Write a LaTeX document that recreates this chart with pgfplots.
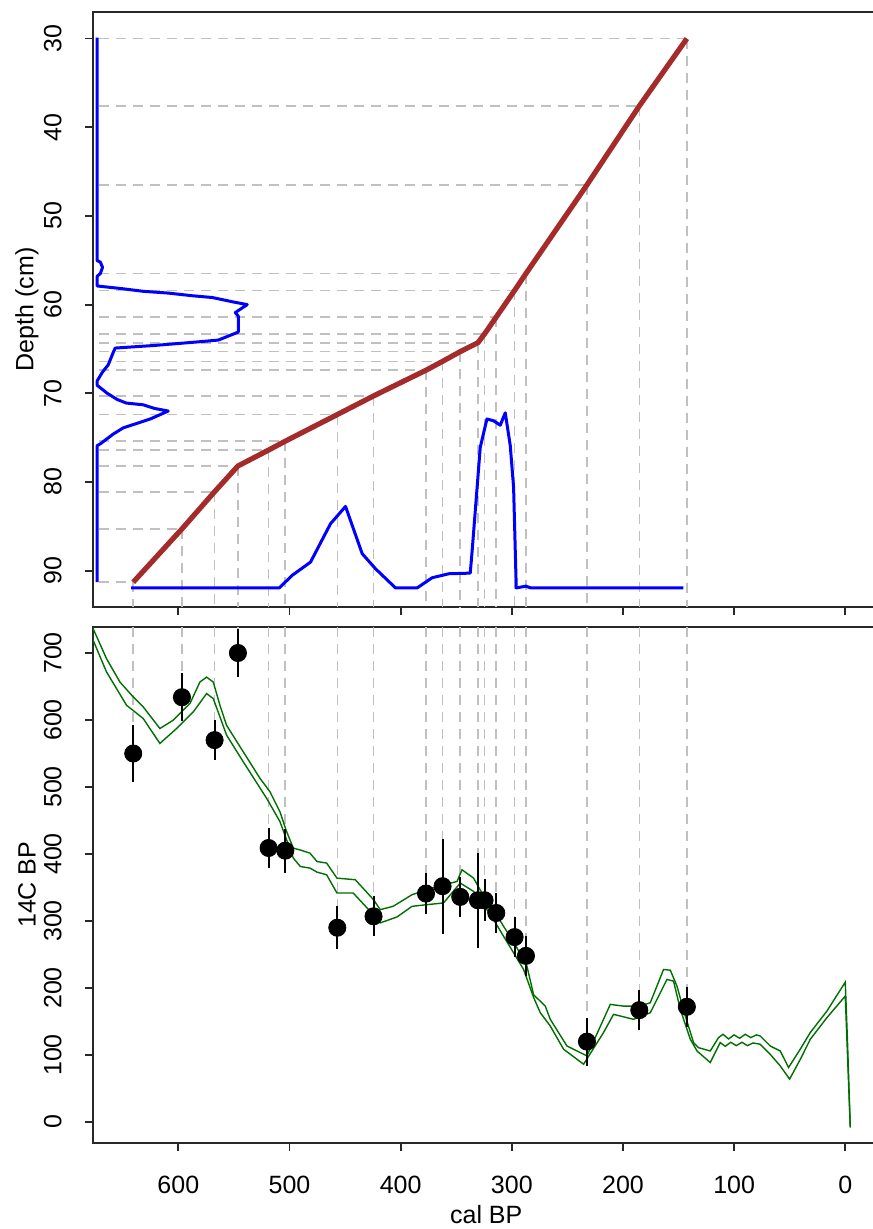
\documentclass[border=0pt]{standalone}
\usepackage{pgfplots}
\pgfplotsset{compat=1.18}
\usepackage{pgfplotstable}
\usepackage{fontspec}
\setmainfont{Liberation Sans}
\definecolor{agered}{RGB}{165,42,42}
\definecolor{calgreen}{RGB}{0,110,0}
\definecolor{guide}{RGB}{192,192,192}
\definecolor{frame}{RGB}{40,40,40}

\pgfplotstableread{
cal depth c14 err
640.6 91.3 550 42
596.8 85.3 634 36
567.4 81.1 570 30
546.4 78.2 700 36
518.8 76.4 409 30
503.8 75.4 405 33
457.0 72.4 290 32
424.4 70.3 307 30
377.2 67.4 341 31
362.3 66.4 352 71
346.4 65.3 336 30
330.5 64.3 331 71
324.5 63.3 331 31
314.0 61.4 312 30
297.5 58.4 276 30
287.3 56.5 248 30
232.4 46.5 120 36
185.3 37.6 167 30
142.5 30.0 172 30
}\dates

\pgfplotstableread{
cal depth
673 29.9
673 55.05
670.2 55.2
668.2 55.8
670.2 56.5
673 56.8
673 57.9
650.7 58.2
631.6 58.5
609.1 58.7
587.5 59.0
569.5 59.2
550.6 59.7
538 60.0
548.8 60.9
546.1 61.3
546.1 63.1
564.1 64.0
582.1 64.2
620.8 64.6
656.8 64.9
658.6 65.4
663.1 66.8
668.2 67.6
673 68.6
673 69.1
664 70.0
655 70.7
646.9 71.1
631.6 71.3
621.7 71.7
609.1 72.0
625.3 72.9
649.6 73.9
658.6 74.6
670.2 75.7
673 75.9
673 91.3
}\depthprob

\pgfplotstableread{
cal depth
642.4 91.95
509.2 91.95
497.7 90.54
481.1 89.04
463.1 84.71
449.6 82.76
434.6 88.09
422.6 89.79
404.6 91.95
385.2 91.95
371.7 90.8
356.6 90.35
337.4 90.28
335.9 88.1
328.4 76.1
322.4 72.9
316.4 73.1
310.4 73.6
305.9 72.2
301.4 75.9
298.4 80.6
296.0 91.95
287.4 91.75
282.9 91.95
145.7 91.95
}\ageprob

\pgfplotstableread{
cal c14
680 745
676.6 736
664.6 691.5
652.6 656.7
640.6 634.4
631.6 619.5
616.6 587.3
604.6 599.7
589.6 624.5
580.6 656.7
574.6 664
568.6 656.7
562.6 622
556.6 592
541.6 552.5
526.6 513
517.6 493
508.6 463
502.6 433.5
496.6 408.8
490.3 406
481.6 401.3
475.3 388.8
466.6 386.5
457.3 364
440.8 361.6
424.4 331.8
418.4 317
406.7 322
389.8 339.3
376.3 346.7
361.4 354
349.3 359
344.8 376.5
334.4 364
326.9 341.8
316.4 317
307.4 292
298.4 269
286.4 232.6
280.4 190
269.9 173
265.4 153.3
250.4 113.5
232.4 98.7
211.4 175.6
199.5 173
184.4 173
175.4 178.1
163.5 227.7
157.4 226.6
151.4 202.8
143.9 158.2
136.5 118.6
132 111
121.5 106
114 126
110 131
105 124
100 130
95 125
90 131
85 126
80 130
76.5 128.4
67.5 113.5
58.5 106
51 81.4
40 110
31.5 133.5
16.5 165.6
0 208.8
-2 120
-4.5 -8
}\calup

\pgfplotstableread{
cal c14
680 728
676.6 718.8
664.6 671.6
646.6 622
631.6 602.2
616.6 565
601.6 587.3
586.6 612
574.6 639.4
568.6 632
556.6 577.4
541.6 537.6
520.6 483.2
508.6 448.4
496.6 394
490.3 381.4
481.6 379
475.3 373
466.6 369
457.3 341.8
442.7 341.8
424.6 309.5
418.4 297.2
403.3 306
389.8 321.9
376.3 324.4
361.4 327
346.4 356.7
334.4 344.2
325.4 324.4
316.4 302
307.4 277.2
298.4 252.5
289.4 227.7
280.4 186
274.4 163.2
265.4 143.3
253.4 108.6
235.4 86.3
217.5 133.5
208.5 160.7
190.5 153.3
175.4 163.2
160.4 212.8
154.5 210.3
148.4 168.2
139.4 123.5
133.4 106.1
121.5 88.8
112.5 118.6
108 113
103 119
98 114
93 119
88 114
83 118
76.5 116.1
67 100
58.5 83.8
50.1 64
40 95
31.5 123.5
16.5 155.8
0 188
-2 100
-4.5 -8
}\callow

\begin{document}
\begin{tikzpicture}
\path[use as bounding box] (-46.5pt,-311pt) rectangle (389.5pt,303.5pt);
\pgfplotsset{
  every axis/.append style={
    scale only axis, width=393.25pt,
    x dir=reverse, xmin=-30.8, xmax=676.8,
    axis line style={frame, line width=0.9pt},
    tick style={frame, line width=0.9pt},
    tick align=outside, major tick length=4pt,
    xtick={0,100,...,600}, xtick pos=left, ytick pos=left,
    tick label style={font=\fontsize{12.5}{15}\selectfont},
    label style={font=\fontsize{12.5}{15}\selectfont},
    /pgf/number format/assume math mode=true,
    yticklabel style={rotate=90, anchor=south, inner sep=0pt},
    xticklabel style={anchor=north, inner sep=0pt},
    yticklabel shift=11.5pt, xticklabel shift=12.5pt,
    ylabel style={at={(axis description cs:-0.084,0.5)}, anchor=center, inner sep=0pt},
  },
  guideline/.style={guide, line width=0.8pt, dash pattern=on 5pt off 3.5pt, unbounded coords=jump},
}
\begin{axis}[at={(0,0)}, anchor=south west, height=297.6pt,
  y dir=reverse, ymin=26.98, ymax=94.10, ytick={30,40,...,90},
  xticklabels={}, ylabel={Depth (cm)}]
\addplot[guideline] coordinates {
(671,91.3)(640.6,91.3) (nan,nan)
(671,85.3)(596.8,85.3) (nan,nan)
(671,81.1)(567.4,81.1) (nan,nan)
(671,78.2)(546.4,78.2) (nan,nan)
(671,76.4)(518.8,76.4) (nan,nan)
(671,75.4)(503.8,75.4) (nan,nan)
(671,72.4)(457.0,72.4) (nan,nan)
(671,70.3)(424.4,70.3) (nan,nan)
(671,67.4)(377.2,67.4) (nan,nan)
(671,66.4)(362.3,66.4) (nan,nan)
(671,65.3)(346.4,65.3) (nan,nan)
(671,64.3)(330.5,64.3) (nan,nan)
(671,63.3)(324.5,63.3) (nan,nan)
(671,61.4)(314.0,61.4) (nan,nan)
(671,58.4)(297.5,58.4) (nan,nan)
(671,56.5)(287.3,56.5) (nan,nan)
(671,46.5)(232.4,46.5) (nan,nan)
(671,37.6)(185.3,37.6) (nan,nan)
(671,30.0)(142.5,30.0)
};
\addplot[guideline] coordinates {
(640.6,91.3)(640.6,94.1) (nan,nan)
(596.8,85.3)(596.8,94.1) (nan,nan)
(567.4,81.1)(567.4,94.1) (nan,nan)
(546.4,78.2)(546.4,94.1) (nan,nan)
(518.8,76.4)(518.8,94.1) (nan,nan)
(503.8,75.4)(503.8,94.1) (nan,nan)
(457.0,72.4)(457.0,94.1) (nan,nan)
(424.4,70.3)(424.4,94.1) (nan,nan)
(377.2,67.4)(377.2,94.1) (nan,nan)
(362.3,66.4)(362.3,94.1) (nan,nan)
(346.4,65.3)(346.4,94.1) (nan,nan)
(330.5,64.3)(330.5,94.1) (nan,nan)
(324.5,63.3)(324.5,94.1) (nan,nan)
(314.0,61.4)(314.0,94.1) (nan,nan)
(297.5,58.4)(297.5,94.1) (nan,nan)
(287.3,56.5)(287.3,94.1) (nan,nan)
(232.4,46.5)(232.4,94.1) (nan,nan)
(185.3,37.6)(185.3,94.1) (nan,nan)
(142.5,30.0)(142.5,94.1)
};
\addplot[blue, line width=1.5pt, line join=round] table[x=cal,y=depth] {\depthprob};
\addplot[blue, line width=1.5pt, line join=round] table[x=cal,y=depth] {\ageprob};
\addplot[agered, line width=2.6pt, line join=round] table[x=cal,y=depth] {\dates};
\end{axis}

\begin{axis}[at={(0,-10pt)}, anchor=north west, height=257.8pt,
  ymin=-30.7, ymax=738.8, ytick={0,100,...,700},
  xlabel={cal BP}, ylabel={14C BP},
  xlabel style={at={(axis description cs:0.5,0)}, anchor=north, yshift=-31pt, inner sep=0pt}]
\addplot[guideline] coordinates {
(640.6,738.8)(640.6,550) (nan,nan)
(596.8,738.8)(596.8,634) (nan,nan)
(567.4,738.8)(567.4,570) (nan,nan)
(546.4,738.8)(546.4,700) (nan,nan)
(518.8,738.8)(518.8,409) (nan,nan)
(503.8,738.8)(503.8,405) (nan,nan)
(457.0,738.8)(457.0,290) (nan,nan)
(424.4,738.8)(424.4,307) (nan,nan)
(377.2,738.8)(377.2,341) (nan,nan)
(362.3,738.8)(362.3,352) (nan,nan)
(346.4,738.8)(346.4,336) (nan,nan)
(330.5,738.8)(330.5,331) (nan,nan)
(324.5,738.8)(324.5,331) (nan,nan)
(314.0,738.8)(314.0,312) (nan,nan)
(297.5,738.8)(297.5,276) (nan,nan)
(287.3,738.8)(287.3,248) (nan,nan)
(232.4,738.8)(232.4,120) (nan,nan)
(185.3,738.8)(185.3,167) (nan,nan)
(142.5,738.8)(142.5,172)
};
\addplot[calgreen, line width=0.7pt] table[x=cal,y=c14] {\calup};
\addplot[calgreen, line width=0.7pt] table[x=cal,y=c14] {\callow};
\addplot[black, only marks, mark=*, mark size=4.3pt,
  error bars/.cd, y dir=both, y explicit, error mark=none,
  error bar style={line width=1pt, black}]
  table[x=cal, y=c14, y error=err] {\dates};
\end{axis}
\end{tikzpicture}
\end{document}
